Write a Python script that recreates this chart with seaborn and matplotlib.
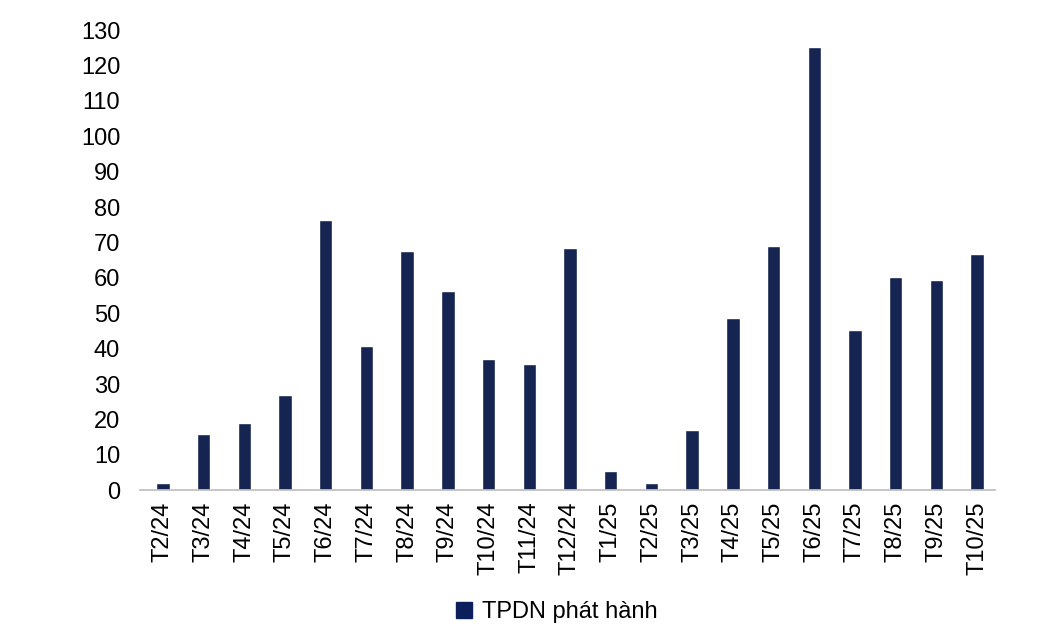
import matplotlib
matplotlib.use("Agg")
import matplotlib.pyplot as plt
import pandas as pd
import seaborn as sns

months = ["T2/24", "T3/24", "T4/24", "T5/24", "T6/24", "T7/24", "T8/24", "T9/24",
          "T10/24", "T11/24", "T12/24", "T1/25", "T2/25", "T3/25", "T4/25", "T5/25",
          "T6/25", "T7/25", "T8/25", "T9/25", "T10/25"]
issued = [2, 16, 19, 27, 76.5, 40.7, 67.5, 56.2, 37, 35.6, 68.4, 5.4, 2, 17, 48.6,
          69, 125.4, 45.2, 60.2, 59.3, 66.7]
series_name = "TPDN phát hành"
bar_color = "#0c1f5c"

df = pd.DataFrame({"month": months, "value": issued, "series": series_name})

sns.set_theme(style="white")
plt.rcParams["font.family"] = ["Liberation Sans", "DejaVu Sans"]

fig = plt.figure(figsize=(10.5, 6.3), dpi=100)
ax = fig.add_axes([0.133, 0.222, 0.815, 0.73])
sns.barplot(data=df, x="month", y="value", hue="series", palette=[bar_color],
            width=0.33, ax=ax, legend=False)

ax.set_ylim(0, 130)
ax.set_yticks(range(0, 131, 10))
ax.tick_params(axis="y", labelsize=17, length=0, pad=14, labelcolor="black")
ax.tick_params(axis="x", labelsize=17, rotation=90, length=0, pad=8, labelcolor="black")
ax.set_xlabel("")
ax.set_ylabel("")
for s in ["top", "right", "left"]:
    ax.spines[s].set_visible(False)
ax.spines["bottom"].set_color("#bfbfbf")
ax.set_xlim(-0.57, len(months) - 0.55)

handle = plt.Rectangle((0, 0), 1, 1, color=bar_color)
fig.legend([handle], [series_name], loc="center", bbox_to_anchor=(0.53, 0.028),
           frameon=False, fontsize=17, handlelength=0.7, handleheight=0.7,
           handletextpad=0.4, labelcolor="black")

fig.savefig("out.png", dpi=100)
